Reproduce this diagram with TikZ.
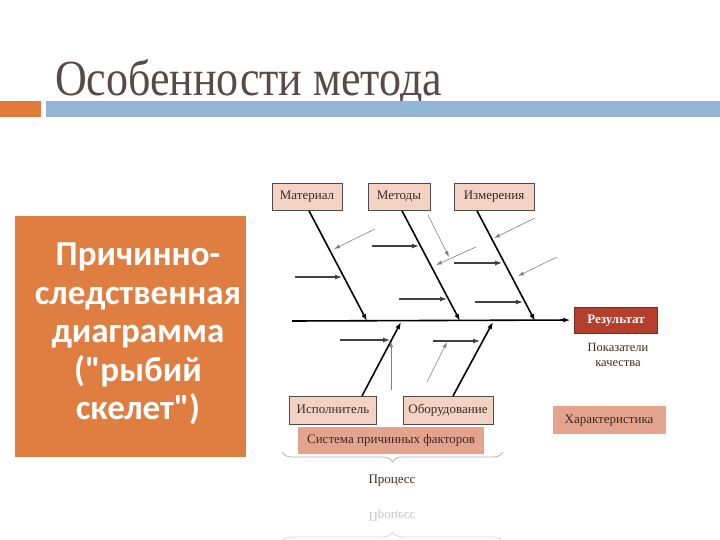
\documentclass[tikz,border=0pt]{standalone}
\usepackage{fontspec}
\setmainfont{Liberation Serif}
\newfontfamily\calfont{Carlito}
\usepackage{tikz}
\usetikzlibrary{arrows.meta, decorations.pathreplacing}
\definecolor{barorange}{HTML}{E3793B}
\definecolor{barblue}{HTML}{92B4D5}
\definecolor{boxorange}{HTML}{E07E42}
\definecolor{peach}{HTML}{F3D2C3}
\definecolor{salmon}{HTML}{E3A38D}
\definecolor{resred}{HTML}{B43F2C}
\definecolor{titlegray}{HTML}{564B48}
\definecolor{inkbrown}{HTML}{3B2C27}

\begin{document}
\begin{tikzpicture}[x=1pt, y=-1pt,
  every node/.style={font=\fontsize{13}{15}\selectfont, text=inkbrown, inner sep=0pt},
  flat/.style={text height=9pt, text depth=3pt},
  cause/.style={flat, draw=gray!60!black, line width=0.6pt, fill=peach, minimum height=27},
  bone/.style={line width=1.6pt, -{Latex[length=7pt,width=5pt]}},
  twig/.style={line width=1.2pt, black!75, -{Latex[length=7pt,width=5pt]}},
  hair/.style={line width=0.6pt, gray, -{Latex[length=6pt,width=4pt]}}]
  \useasboundingbox (0,0) rectangle (720,540);
  \fill[white] (0,0) rectangle (720,540);
  \node[anchor=base west, text=titlegray, font=\fontsize{44}{44}\selectfont] (title) at (55,96) {\scalebox{1}[1.15]{Особенности метода}};
  \fill[barorange] (0,101) rectangle (41,117);
  \fill[barblue] (46,101) rectangle (720,117);
  \fill[boxorange] (15,216) rectangle (246,457);
  \node[align=center, text=white, font=\calfont\bfseries\fontsize{35}{38.5}\selectfont] (fishname) at (138,334) {Причинно-\\следственная\\диаграмма\\("рыбий\\скелет")};
  \node[cause, minimum width=70] (mat) at (307,197) {Материал};
  \node[cause, minimum width=62] (met) at (399,197) {Методы};
  \node[cause, minimum width=80] (izm) at (494,197) {Измерения};
  \node[cause, minimum width=87, minimum height=28] (isp) at (333,410) {Исполнитель};
  \node[cause, minimum width=90, minimum height=28] (obo) at (448,410) {Оборудование};
  \node[flat, fill=salmon, minimum width=186, minimum height=27] (sys) at (391,440) {Система причинных факторов};
  \node[flat, fill=salmon, minimum width=113, minimum height=28] (har) at (609,420) {Характеристика};
  \node[flat, draw=resred!70!black, fill=resred, text=white, font=\bfseries\fontsize{13}{15}\selectfont, minimum width=83, minimum height=26] (res) at (616,320) {Результат};
  \node[align=center, font=\fontsize{12.5}{15}\selectfont] (qual) at (618,355) {Показатели\\качества};
  \coordinate (tail) at (292,321);
  \coordinate (b1) at (367,321);
  \coordinate (b2) at (460,321);
  \coordinate (b3) at (535,321);
  \coordinate (b4) at (401,322);
  \coordinate (b5) at (493,322);
  \coordinate (l1) at (362,396);
  \coordinate (l2) at (453,396);
  \draw[line width=1.6pt, -{Latex[length=7pt,width=5pt]}, shorten >=4pt] (tail) -- (res.west);
  \draw[bone] (mat.south) ++(2,0) -- (b1);
  \draw[bone] (met.south) ++(3,0) -- (b2);
  \draw[bone] (izm.south) ++(-17,0) -- (b3);
  \draw[bone] (l1) -- (b4);
  \draw[bone] (l2) -- (b5);
  \foreach \xa/\ya/\xb/\yb in {295/277/342/277, 372/246/419/246, 399/299/447/299, 454/263/502/263, 475/302/523/302, 340/340/390/340, 433/341/480/341}
    {\draw[twig] (\xa,\ya) -- (\xb,\yb);}
  \foreach \xa/\ya/\xb/\yb in {375/229/334/249, 428/215/449/257, 476/247/436/265, 535/218/494/238, 557/257/518/276, 391/390/391/341, 427/382/447/342}
    {\draw[hair] (\xa,\ya) -- (\xb,\yb);}
  \draw[gray!60, line width=0.8pt, decorate, decoration={brace, amplitude=10pt, mirror}] (282,452) -- (503,452);
  \node (proc) at (392,481) {Процесс};
  \node[text=gray!45] (procmirror) at (392,515) {\scalebox{1}[-1]{Процесс}};
  \draw[gray!30, line width=0.8pt, decorate, decoration={brace, amplitude=10pt}] (282,542) -- (503,542);
\end{tikzpicture}
\end{document}
